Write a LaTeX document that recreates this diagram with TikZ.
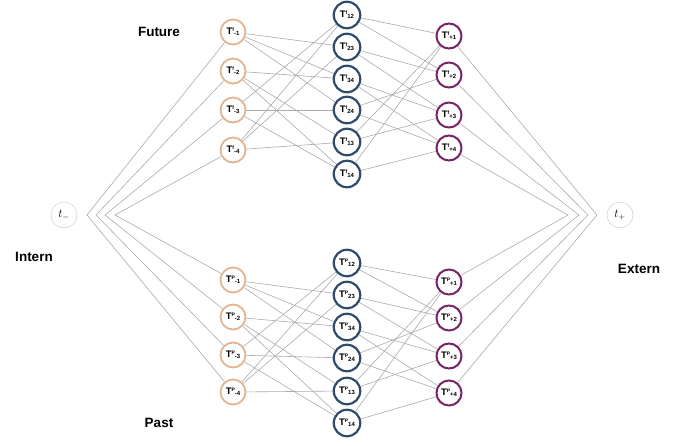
\documentclass[tikz,border=0pt]{standalone}
\usepackage{fontspec}
\setmainfont{Liberation Sans}
\usetikzlibrary{backgrounds}
\definecolor{tanc}{HTML}{E2B592}
\definecolor{navyc}{HTML}{2F4A6A}
\definecolor{plumc}{HTML}{7A2468}
\definecolor{edgec}{HTML}{ABABAB}
\newcommand\tlab[2]{T\raisebox{2.8pt}{\fontsize{5}{5}\selectfont #1}\raisebox{-1pt}{\fontsize{6}{6}\selectfont #2}}
\tikzset{
  base/.style={circle, fill=white, inner sep=0pt, font=\bfseries\fontsize{9.5}{9.5}\selectfont},
  lnode/.style={base, draw=tanc, line width=1.8pt, minimum size=25pt},
  mnode/.style={base, draw=navyc, line width=2.2pt, minimum size=26.5pt},
  rnode/.style={base, draw=plumc, line width=2pt, minimum size=25pt},
  tnode/.style={circle, draw=gray!40, line width=0.5pt, minimum size=26pt, inner sep=0pt, font=\fontsize{12}{12}\selectfont},
  conn/.style={draw=edgec, line width=0.6pt},
  heading/.style={font=\bfseries\fontsize{13.5}{14}\selectfont}
}
\begin{document}
\begin{tikzpicture}[x=1pt,y=-1pt]
\useasboundingbox (0,0) rectangle (683,445);
% upper (future)
\foreach \n/\yy in {1/32,2/71,3/110,4/150}
  \node[lnode] (fL\n) at (233,\yy) {\tlab{f}{-\n}};
\foreach \n/\yy in {12/15,23/47,34/79,24/110,13/142,14/174}
  \node[mnode] (fM\n) at (347,\yy) {\tlab{f}{\n}};
\foreach \n/\yy in {1/36,2/75,3/115,4/148}
  \node[rnode] (fR\n) at (449,\yy) {\tlab{f}{+\n}};
% lower (past)
\foreach \n/\yy in {1/280,2/317,3/355,4/392}
  \node[lnode] (pL\n) at (233,\yy) {\tlab{P}{-\n}};
\foreach \n/\yy in {12/263,23/295,34/327,24/358,13/391,14/423}
  \node[mnode] (pM\n) at (347,\yy) {\tlab{P}{\n}};
\foreach \n/\yy in {1/282,2/318,3/356,4/393}
  \node[rnode] (pR\n) at (449,\yy) {\tlab{P}{+\n}};
% terminals
\node[tnode] (tm) at (64,215) {$t_-$};
\node[tnode] (tp) at (620,215) {$t_+$};
% headings
\node[heading] (hf) at (159,32) {Future};
\node[heading] (hp) at (159,423) {Past};
\node[heading] (hi) at (34,257) {Intern};
\node[heading] (he) at (639,269) {Extern};
\begin{pgfonlayer}{background}
\foreach \s in {f,p}{
  \foreach \m/\a/\b in {12/3/4,23/1/4,34/1/2,24/1/3,13/2/4,14/2/3}{
    \draw[conn] (\s L\a) -- (\s M\m);
    \draw[conn] (\s L\b) -- (\s M\m);
  }
  \foreach \m/\a/\b in {12/1/2,23/2/3,34/3/4,24/2/4,13/1/3,14/1/4}{
    \draw[conn] (\s M\m) -- (\s R\a);
    \draw[conn] (\s M\m) -- (\s R\b);
  }
}
\foreach \a/\b/\cx in {1/4/87,2/3/96,3/2/105,4/1/115}{
  \coordinate (cl\a) at (\cx,215);
  \draw[conn] (fL\a) -- (cl\a) -- (pL\b);
}
\foreach \a/\b/\cx in {1/4/597,2/3/588,3/2/579,4/1/568}{
  \coordinate (cr\a) at (\cx,215);
  \draw[conn] (fR\a) -- (cr\a) -- (pR\b);
}
\end{pgfonlayer}
\end{tikzpicture}
\end{document}
